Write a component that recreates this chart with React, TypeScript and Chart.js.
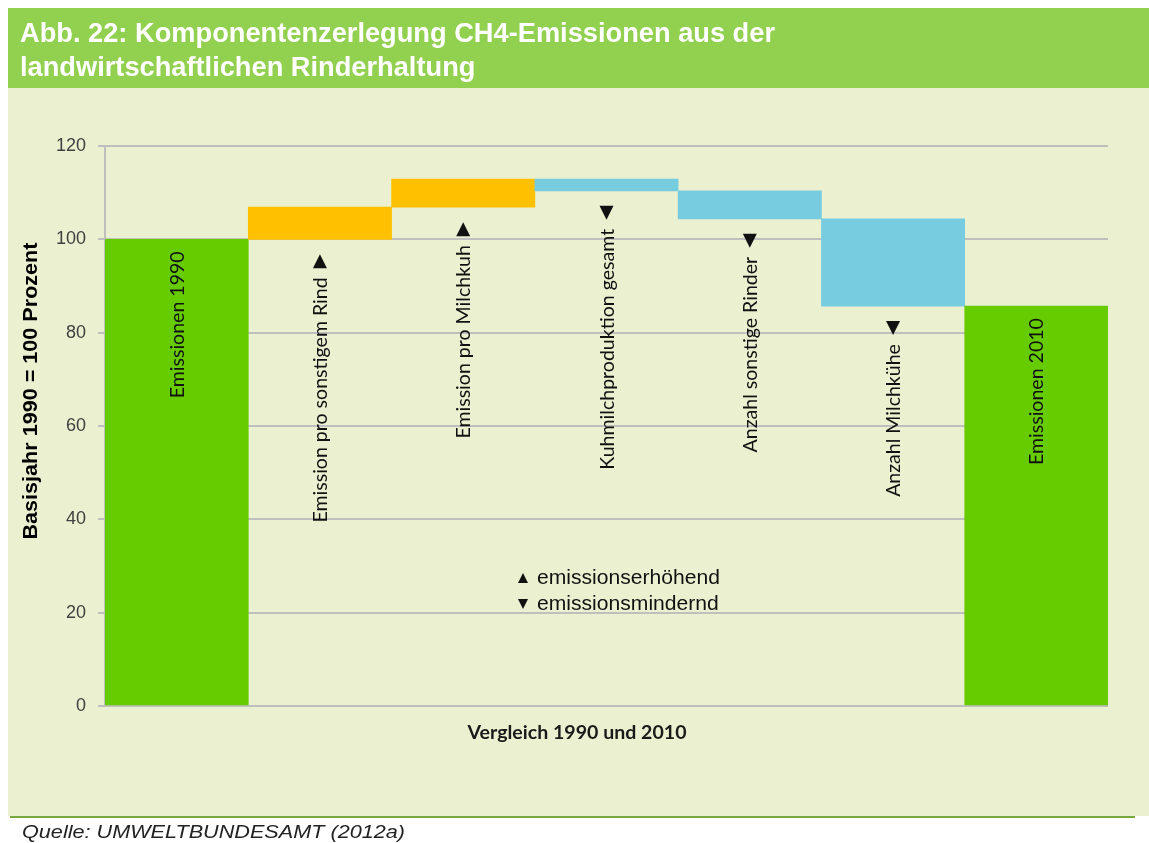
import React, { useEffect, useRef } from 'react';
import { Chart, registerables } from 'chart.js';

Chart.register(...registerables);

// ---------- data ----------
const categories = [
  'Emissionen 1990',
  'Emission pro sonstigem Rind',
  'Emission pro Milchkuh',
  'Kuhmilchproduktion gesamt',
  'Anzahl sonstige Rinder',
  'Anzahl Milchkühe',
  'Emissionen 2010',
];
const barStart = [0, 100, 106.9, 112.9, 110.4, 104.4, 0];
const barEnd = [100, 106.9, 112.9, 110.4, 104.4, 85.7, 85.7];
const barKind = ['total', 'increase', 'increase', 'decrease', 'decrease', 'decrease', 'total'];
const yTicks = [0, 20, 40, 60, 80, 100, 120];

const titleLines = [
  'Abb. 22: Komponentenzerlegung CH4-Emissionen aus der',
  'landwirtschaftlichen Rinderhaltung',
];
const yAxisTitle = 'Basisjahr 1990 = 100 Prozent';
const xAxisTitle = 'Vergleich 1990 und 2010';
const legendKinds = ['increase', 'decrease'];
const legendTexts = ['emissionserhöhend', 'emissionsmindernd'];
const sourceText = 'Quelle: UMWELTBUNDESAMT (2012a)';

// ---------- style ----------
const KIND_COLORS: Record<string, string> = {
  total: '#66CC00',
  increase: '#FFC000',
  decrease: '#78CCE0',
};
const HEADER_GREEN = '#92D050';
const PANEL_BG = '#EBF1D0';
const GRID = '#BFBFBF';

function triangle(ctx: CanvasRenderingContext2D, cx: number, top: number, w: number, h: number, up: boolean) {
  ctx.beginPath();
  if (up) {
    ctx.moveTo(cx - w / 2, top + h);
    ctx.lineTo(cx + w / 2, top + h);
    ctx.lineTo(cx, top);
  } else {
    ctx.moveTo(cx - w / 2, top);
    ctx.lineTo(cx + w / 2, top);
    ctx.lineTo(cx, top + h);
  }
  ctx.closePath();
  ctx.fill();
}

function fitScale(ctx: CanvasRenderingContext2D, text: string, font: string, target: number) {
  ctx.font = font;
  return target / ctx.measureText(text).width;
}

const decorPlugin = {
  id: 'decor',
  beforeDraw(chart: any) {
    const ctx = chart.ctx as CanvasRenderingContext2D;
    const W = chart.width;
    const H = chart.height;
    ctx.save();
    ctx.fillStyle = '#ffffff';
    ctx.fillRect(0, 0, W, H);
    ctx.fillStyle = HEADER_GREEN;
    ctx.fillRect(8, 8, W - 8, 80);
    ctx.fillStyle = PANEL_BG;
    ctx.fillRect(8, 88, W - 8, 728);
    // footer line
    ctx.strokeStyle = '#78A940';
    ctx.lineWidth = 2;
    ctx.beginPath();
    ctx.moveTo(10, 817);
    ctx.lineTo(1135, 817);
    ctx.stroke();
    ctx.restore();
  },
  afterDatasetsDraw(chart: any) {
    const ctx = chart.ctx as CanvasRenderingContext2D;
    const xs = chart.scales.x;
    const ys = chart.scales.y;
    const font = '20px Lato';
    const s = fitScale(ctx, categories[0], font, 147);
    const capH = 14;
    ctx.save();
    ctx.fillStyle = '#111111';
    categories.forEach((label, i) => {
      const cx = xs.getPixelForValue(i);
      const lo = Math.min(barStart[i], barEnd[i]);
      const hi = Math.max(barStart[i], barEnd[i]);
      let textEnd: number;
      if (barKind[i] === 'total') {
        textEnd = ys.getPixelForValue(hi) + 12;
      } else {
        const triTop = ys.getPixelForValue(lo) + 15;
        triangle(ctx, cx, triTop, 14, 14, barKind[i] === 'increase');
        textEnd = triTop + 14 + 9;
      }
      ctx.save();
      ctx.translate(cx, textEnd);
      ctx.rotate(-Math.PI / 2);
      ctx.scale(s, 1);
      ctx.font = font;
      ctx.textAlign = 'right';
      ctx.textBaseline = 'alphabetic';
      ctx.fillText(label, 0, capH / 2);
      ctx.restore();
    });
    ctx.restore();
  },
  afterDraw(chart: any) {
    const ctx = chart.ctx as CanvasRenderingContext2D;
    ctx.save();
    // title
    const tFont = 'bold 27px "Liberation Sans"';
    const ts = fitScale(ctx, titleLines[0], tFont, 755);
    ctx.fillStyle = '#ffffff';
    ctx.textAlign = 'left';
    ctx.textBaseline = 'alphabetic';
    titleLines.forEach((line, i) => {
      ctx.save();
      ctx.translate(20, 42 + i * 34);
      ctx.scale(ts, 1);
      ctx.font = tFont;
      ctx.fillText(line, 0, 0);
      ctx.restore();
    });

    // y axis title
    const yFont = 'bold 21px "Liberation Sans"';
    const ys = fitScale(ctx, yAxisTitle, yFont, 297);
    ctx.fillStyle = '#000000';
    ctx.save();
    ctx.translate(31, 391);
    ctx.rotate(-Math.PI / 2);
    ctx.scale(ys, 1);
    ctx.font = yFont;
    ctx.textAlign = 'center';
    ctx.textBaseline = 'middle';
    ctx.fillText(yAxisTitle, 0, 0);
    ctx.restore();

    // x axis title
    const xFont = 'bold 19px Lato';
    const xsc = fitScale(ctx, xAxisTitle, xFont, 219);
    ctx.save();
    ctx.translate(577, 733);
    ctx.scale(xsc, 1);
    ctx.font = xFont;
    ctx.textAlign = 'center';
    ctx.textBaseline = 'middle';
    ctx.fillStyle = '#1a1a1a';
    ctx.fillText(xAxisTitle, 0, 0);
    ctx.restore();

    // legend note
    const lFont = '20px "Liberation Sans"';
    const lsc = fitScale(ctx, legendTexts[0], lFont, 183);
    ctx.fillStyle = '#111111';
    legendKinds.forEach((kind, i) => {
      const cy = 578 + i * 26;
      triangle(ctx, 523, cy - 5, 10, 10, kind === 'increase');
      ctx.save();
      ctx.translate(537, cy);
      ctx.scale(lsc, 1);
      ctx.font = lFont;
      ctx.textAlign = 'left';
      ctx.textBaseline = 'middle';
      ctx.fillText(legendTexts[i], 0, 0);
      ctx.restore();
    });

    // source
    const sFont = 'italic 19px "Liberation Sans"';
    const ssc = fitScale(ctx, sourceText, sFont, 383);
    ctx.save();
    ctx.translate(22, 838);
    ctx.scale(ssc, 1);
    ctx.font = sFont;
    ctx.fillStyle = '#222222';
    ctx.textAlign = 'left';
    ctx.textBaseline = 'alphabetic';
    ctx.fillText(sourceText, 0, 0);
    ctx.restore();

    ctx.restore();
  },
};

export default function App() {
  const ref = useRef<HTMLCanvasElement | null>(null);
  useEffect(() => {
    if (!ref.current) return;
    const chart = new Chart(ref.current, {
      type: 'bar',
      data: {
        labels: categories,
        datasets: [
          {
            data: categories.map((_, i) => [barStart[i], barEnd[i]]) as any,
            backgroundColor: barKind.map((k) => KIND_COLORS[k]),
            borderWidth: 0,
            barPercentage: 1,
            categoryPercentage: 1,
          },
        ],
      },
      options: {
        responsive: false,
        animation: false,
        devicePixelRatio: 1,
        layout: { padding: { left: 0, right: 41, top: 146, bottom: 137 } },
        plugins: {
          legend: { display: false },
          tooltip: { enabled: false },
          title: { display: false },
        },
        scales: {
          x: { display: false },
          y: {
            min: 0,
            max: 120,
            afterBuildTicks: (s: any) => {
              s.ticks = yTicks.map((v) => ({ value: v }));
            },
            afterFit: (s: any) => {
              s.width = 105;
            },
            ticks: {
              font: { family: 'Liberation Sans', size: 18 },
              color: '#404040',
              padding: 12,
            },
            grid: { color: GRID, lineWidth: 2, tickLength: 7 },
            border: { color: GRID, width: 2 },
          },
        },
      },
      plugins: [decorPlugin],
    });
    return () => chart.destroy();
  }, []);
  return (
    <div style={{ position: 'absolute', left: 0, top: 0, width: 1149, height: 843 }}>
      <canvas ref={ref} width={1149} height={843} style={{ display: 'block' }} />
    </div>
  );
}
